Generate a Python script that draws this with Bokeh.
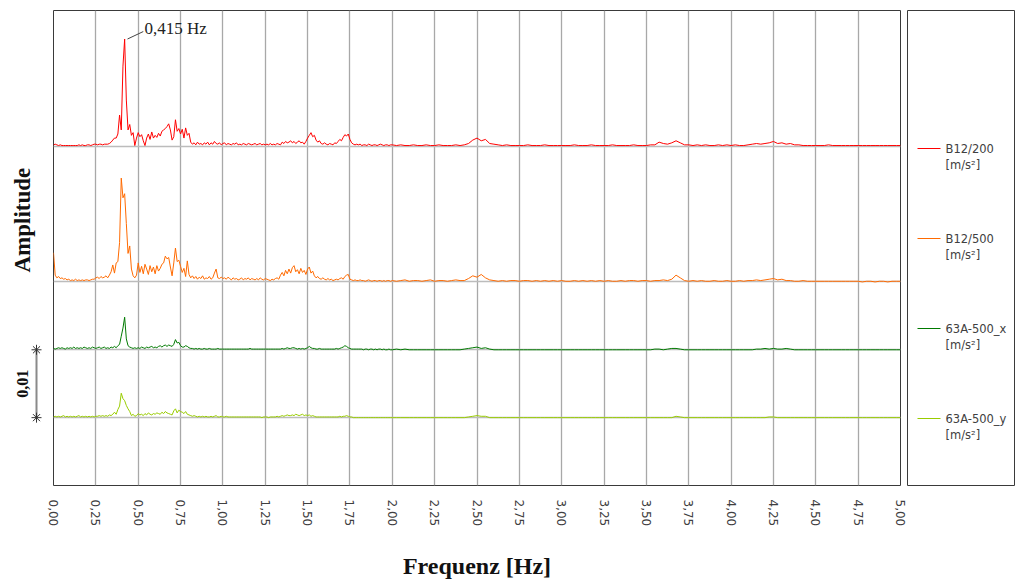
import numpy as np
from bokeh.plotting import figure
from bokeh.layouts import row
from bokeh.models import Range1d, FixedTicker, Label
from bokeh.core.properties import value
from bokeh.embed import file_html
from bokeh.resources import INLINE

# ---------------- data ----------------
# frequency bins: 0.00-1.99 Hz every 0.01 Hz, 2.000-5.000 Hz every 0.025 Hz
freq_low = np.round(np.arange(200) * 0.01, 3)
freq_high = np.round(2.0 + np.arange(121) * 0.025, 3)
freq = np.concatenate([freq_low, freq_high])

x_ticks = [0.0, 0.25, 0.5, 0.75, 1.0, 1.25, 1.5, 1.75, 2.0, 2.25, 2.5, 2.75,
           3.0, 3.25, 3.5, 3.75, 4.0, 4.25, 4.5, 4.75, 5.0]
x_tick_labels = ["0,00", "0,25", "0,50", "0,75", "1,00", "1,25", "1,50", "1,75",
                 "2,00", "2,25", "2,50", "2,75", "3,00", "3,25", "3,50", "3,75",
                 "4,00", "4,25", "4,50", "4,75", "5,00"]

series_names = ["B12/200", "B12/500", "63A-500_x", "63A-500_y"]
series_unit = "[m/s²]"
series_offsets = [0.04, 0.02, 0.01, 0.0]       # display offsets, m/s²
scale_bar = 0.01                                 # m/s²

# amplitudes in mm/s²
b12_200_a = [0.2,0.3,0.2,0.1,0.2,0.1,0.1,0.1,0.1,0.1,
             0.1,0.1,0.1,0.1,0.1,0.2,0.1,0.2,0.1,0.1,
             0.2,0.2,0.1,0.2,0.3,0.3,0.2,0.3,0.3,0.2,
             0.3,0.3,0.3,0.4,0.6,0.9,1.2,1.2,1.8,4.6,
             2.4,11.8,15.8,6.8,2.4,3.2,1.6,2.0,0.1,1.2,
             2.0,1.4,1.7,0.8,0.1,1.2,1.8,1.0,2.1,1.2,
             1.6,1.3,1.9,1.5,2.2,2.4,2.6,2.9,3.3,2.4,
             0.9,1.4,3.9,2.2,2.6,1.8,2.5,1.2,2.7,1.6,
             1.9,0.6,0.3,0.5,0.2,0.6,0.3,0.4,0.2,0.5,
             0.3,0.6,0.2,0.5,0.3,0.7,0.4,0.3,0.5,0.2]
b12_200_b = [0.4,0.5,0.2,0.4,0.3,0.2,0.4,0.3,0.5,0.2,
             0.3,0.2,0.4,0.3,0.2,0.4,0.3,0.2,0.3,0.4,
             0.2,0.3,0.4,0.2,0.3,0.2,0.3,0.2,0.4,0.2,
             0.3,0.2,0.4,0.3,0.2,0.6,0.4,0.7,0.5,0.6,
             0.8,0.5,0.7,0.4,0.6,0.8,0.5,0.6,0.3,0.7,
             1.2,1.6,2.0,1.4,1.6,0.9,0.6,0.8,0.4,0.3,
             0.5,0.3,0.2,0.4,0.3,0.2,0.5,0.4,0.7,1.0,
             0.8,1.3,1.7,1.5,1.8,1.0,0.5,0.3,0.2,0.3,
             0.2,0.3,0.1,0.2,0.2,0.1,0.3,0.2,0.1,0.2,
             0.2,0.1,0.2,0.3,0.2,0.1,0.2,0.2,0.1,0.2]
b12_200_c = [0.2,0.1,0.2,0.1,0.1,0.2,0.1,0.1,0.2,0.1,
             0.1,0.2,0.1,0.1,0.1,0.2,0.1,0.2,0.4,0.9,
             1.2,0.8,1.0,0.4,0.3,0.2,0.1,0.2,0.1,0.1,
             0.1,0.1,0.2,0.1,0.1,0.1,0.2,0.1,0.1,0.1,
             0.1,0.1,0.1,0.2,0.1,0.1,0.1,0.2,0.1,0.1,
             0.1,0.1,0.2,0.1,0.1,0.1,0.1,0.2,0.1,0.1,
             0.1,0.2,0.2,0.6,0.4,0.3,0.5,0.8,0.5,0.2,
             0.2,0.1,0.2,0.1,0.2,0.1,0.1,0.2,0.1,0.2,
             0.1,0.2,0.1,0.1,0.2,0.3,0.4,0.3,0.4,0.5,
             0.7,0.4,0.5,0.3,0.4,0.2,0.2,0.1,0.1,0.1,
             0.1,0.1,0.1,0.2,0.1,0.1,0.1,0.1,0.1,0.1,
             0.1,0.1,0.1,0.1,0.1,0.1,0.1,0.1,0.1,0.1,
             0.1]

b12_500_a = [4.3,1.0,0.6,0.8,0.5,0.6,0.4,0.5,0.3,0.4,
             0.2,0.3,0.2,0.4,0.2,0.3,0.2,0.3,0.2,0.3,
             0.3,0.2,0.3,0.4,0.4,0.6,0.7,0.5,0.8,0.6,
             0.7,0.9,0.6,1.0,1.5,2.5,1.3,2.8,3.0,5.8,
             15.3,12.4,13.0,8.6,4.2,5.3,1.9,0.9,0.6,1.0,
             2.8,1.4,2.3,1.2,2.6,1.9,1.1,2.4,1.5,2.2,
             1.2,2.4,1.6,2.0,2.6,2.8,3.8,3.4,3.6,2.2,
             0.9,2.8,5.0,3.0,3.2,2.3,1.4,2.0,0.8,3.1,
             1.1,0.6,0.9,0.5,0.8,0.4,0.7,0.5,0.9,0.4,
             0.6,0.5,0.8,0.4,0.6,1.3,1.9,0.6,0.5,0.7]
b12_500_b = [0.5,0.6,0.4,0.7,0.5,0.3,0.6,0.4,0.5,0.3,
             0.4,0.6,0.3,0.5,0.4,0.6,0.3,0.5,0.4,0.3,
             0.5,0.3,0.6,0.4,0.3,0.5,0.4,0.3,0.2,0.4,
             0.3,0.5,0.6,0.4,1.0,1.4,0.9,1.7,1.2,1.9,
             1.3,2.1,2.4,1.5,1.8,1.2,2.0,1.4,1.7,1.1,
             1.9,2.2,1.3,1.6,0.9,0.6,0.8,0.5,0.4,0.6,
             0.4,0.3,0.5,0.3,0.4,0.2,0.3,0.4,0.3,0.5,
             0.6,0.4,0.8,1.0,1.1,0.4,0.3,0.2,0.3,0.2,
             0.2,0.3,0.2,0.2,0.1,0.2,0.3,0.2,0.1,0.2,
             0.2,0.1,0.2,0.2,0.1,0.2,0.1,0.2,0.2,0.1]
b12_500_c = [0.2,0.1,0.2,0.3,0.1,0.2,0.2,0.1,0.2,0.3,
             0.1,0.2,0.2,0.1,0.2,0.3,0.2,0.2,0.5,0.9,
             0.7,1.1,0.6,0.3,0.2,0.1,0.2,0.1,0.2,0.2,
             0.1,0.2,0.2,0.1,0.2,0.1,0.2,0.1,0.2,0.1,
             0.2,0.1,0.1,0.2,0.1,0.2,0.1,0.2,0.1,0.2,
             0.1,0.2,0.1,0.1,0.2,0.1,0.2,0.2,0.1,0.2,
             0.2,0.1,0.2,0.2,0.3,0.2,0.4,1.0,0.6,0.2,
             0.1,0.2,0.1,0.2,0.1,0.1,0.2,0.1,0.1,0.2,
             0.1,0.1,0.2,0.1,0.2,0.2,0.3,0.2,0.3,0.4,
             0.5,0.3,0.4,0.2,0.2,0.1,0.1,0.2,0.1,0.1,
             0.1,0.1,0.1,0.1,0.1,0.1,0.1,0.1,0.1,0.1,
             0.1,0.0,0.1,0.1,0.0,0.1,0.1,0.0,0.1,0.1,
             0.1]

a63_x_a = [0.2,0.1,0.2,0.3,0.2,0.3,0.2,0.1,0.3,0.2,
           0.3,0.2,0.4,0.2,0.3,0.2,0.3,0.2,0.4,0.3,
           0.2,0.3,0.2,0.4,0.3,0.2,0.3,0.4,0.2,0.3,
           0.4,0.2,0.3,0.2,0.4,0.3,0.5,0.3,0.6,0.8,
           2.0,3.2,4.8,1.6,0.6,0.4,0.3,0.2,0.3,0.2,
           0.3,0.2,0.4,0.3,0.2,0.4,0.3,0.4,0.5,0.3,
           0.4,0.3,0.5,0.6,0.4,0.6,0.7,0.5,0.7,0.6,
           0.5,0.8,1.5,1.0,1.1,0.6,0.4,0.4,0.6,0.5,
           0.3,0.2,0.2,0.1,0.2,0.1,0.2,0.1,0.1,0.2,
           0.1,0.1,0.2,0.1,0.1,0.1,0.1,0.2,0.1,0.1]
a63_x_b = [0.1,0.1,0.1,0.1,0.1,0.1,0.1,0.1,0.1,0.1,
           0.1,0.1,0.1,0.1,0.1,0.1,0.2,0.1,0.1,0.1,
           0.1,0.1,0.1,0.1,0.1,0.1,0.1,0.1,0.1,0.1,
           0.1,0.1,0.1,0.1,0.1,0.2,0.1,0.2,0.3,0.2,
           0.2,0.3,0.3,0.2,0.1,0.2,0.1,0.2,0.1,0.2,
           0.3,0.5,0.3,0.2,0.2,0.1,0.1,0.2,0.1,0.1,
           0.1,0.1,0.1,0.1,0.1,0.1,0.1,0.2,0.1,0.2,
           0.3,0.4,0.6,0.5,0.3,0.2,0.1,0.1,0.1,0.1,
           0.1,0.1,0.1,0.0,0.1,0.1,0.0,0.1,0.1,0.0,
           0.1,0.0,0.1,0.1,0.0,0.1,0.0,0.0,0.1,0.0]
a63_x_c = [0.0,0.1,0.0,0.1,0.0,0.0,0.0,0.0,0.0,0.0,
           0.0,0.0,0.0,0.0,0.0,0.0,0.0,0.1,0.2,0.3,
           0.4,0.2,0.3,0.1,0.0,0.0,0.0,0.0,0.0,0.0,
           0.0,0.0,0.0,0.0,0.0,0.0,0.0,0.0,0.0,0.0,
           0.0,0.0,0.0,0.0,0.0,0.0,0.0,0.0,0.0,0.0,
           0.0,0.0,0.0,0.0,0.0,0.0,0.0,0.0,0.0,0.0,
           0.0,0.0,0.1,0.1,0.0,0.1,0.2,0.2,0.1,0.0,
           0.0,0.0,0.0,0.0,0.0,0.0,0.0,0.0,0.0,0.0,
           0.0,0.0,0.0,0.0,0.0,0.0,0.1,0.1,0.2,0.1,
           0.2,0.1,0.1,0.2,0.1,0.0,0.0,0.0,0.0,0.0,
           0.0,0.0,0.0,0.0,0.0,0.0,0.0,0.0,0.0,0.0,
           0.0,0.0,0.0,0.0,0.0,0.0,0.0,0.0,0.0,0.0,
           0.0]

a63_y_a = [0.1,0.2,0.1,0.2,0.1,0.2,0.3,0.1,0.2,0.1,
           0.2,0.1,0.2,0.1,0.2,0.3,0.1,0.2,0.1,0.2,
           0.1,0.2,0.1,0.2,0.1,0.2,0.2,0.3,0.2,0.3,
           0.2,0.3,0.2,0.4,0.3,0.5,0.8,0.5,1.2,1.7,
           3.6,2.8,2.5,1.8,1.3,0.9,0.3,0.5,0.2,0.3,
           0.6,0.4,0.5,0.3,0.6,0.4,0.7,0.5,0.4,0.6,
           0.5,0.7,0.6,0.5,0.8,0.6,0.9,0.7,0.6,0.5,
           0.4,1.0,1.3,0.7,1.1,0.9,0.8,0.6,0.9,0.5,
           0.4,0.3,0.2,0.3,0.2,0.1,0.2,0.1,0.2,0.1,
           0.2,0.1,0.1,0.2,0.1,0.2,0.3,0.1,0.1,0.2]
a63_y_b = [0.1,0.1,0.2,0.1,0.1,0.1,0.1,0.1,0.1,0.1,
           0.1,0.1,0.1,0.1,0.1,0.1,0.1,0.1,0.1,0.1,
           0.1,0.1,0.1,0.0,0.1,0.1,0.1,0.0,0.1,0.1,
           0.1,0.1,0.2,0.1,0.2,0.3,0.2,0.3,0.4,0.3,
           0.3,0.4,0.3,0.5,0.4,0.3,0.4,0.5,0.3,0.4,
           0.3,0.4,0.2,0.3,0.2,0.1,0.1,0.1,0.1,0.1,
           0.1,0.1,0.1,0.1,0.1,0.1,0.1,0.1,0.1,0.2,
           0.1,0.2,0.2,0.3,0.2,0.1,0.1,0.0,0.0,0.0,
           0.0,0.0,0.0,0.0,0.0,0.0,0.0,0.0,0.0,0.0,
           0.0,0.0,0.0,0.0,0.0,0.0,0.0,0.0,0.0,0.0]
a63_y_c = [0.0,0.0,0.0,0.0,0.0,0.0,0.0,0.0,0.0,0.0,
           0.0,0.0,0.0,0.0,0.0,0.0,0.0,0.0,0.1,0.2,
           0.3,0.2,0.2,0.0,0.0,0.0,0.0,0.0,0.0,0.0,
           0.0,0.0,0.0,0.0,0.0,0.0,0.0,0.0,0.0,0.0,
           0.0,0.0,0.0,0.0,0.0,0.0,0.0,0.0,0.0,0.0,
           0.0,0.0,0.0,0.0,0.0,0.0,0.0,0.0,0.0,0.0,
           0.0,0.0,0.0,0.0,0.0,0.0,0.0,0.2,0.1,0.0,
           0.0,0.0,0.0,0.0,0.0,0.0,0.0,0.0,0.0,0.0,
           0.0,0.0,0.0,0.0,0.0,0.0,0.0,0.0,0.0,0.1,
           0.1,0.0,0.0,0.0,0.0,0.0,0.0,0.0,0.0,0.0,
           0.0,0.0,0.0,0.0,0.0,0.0,0.0,0.0,0.0,0.0,
           0.0,0.0,0.0,0.0,0.0,0.0,0.0,0.0,0.0,0.0,
           0.0]

peak_label = "0,415 Hz"

amplitudes = [
    np.array(b12_200_a + b12_200_b + b12_200_c) / 1000.0,
    np.array(b12_500_a + b12_500_b + b12_500_c) / 1000.0,
    np.array(a63_x_a + a63_x_b + a63_x_c) / 1000.0,
    np.array(a63_y_a + a63_y_b + a63_y_c) / 1000.0,
]
colors = ["#ff0000", "#ff6a00", "#007a00", "#99cc00"]

SERIF = "Liberation Serif"
SANS = "DejaVu Sans"
TOP, BOTTOM = 10, 98
H = TOP + 475 + BOTTOM

# ---------------- main plot ----------------
p = figure(width=862, height=H, output_backend="svg", toolbar_location=None,
           x_range=Range1d(0, 5), y_range=Range1d(-0.01, 0.06),
           y_axis_location=None, min_border_left=8, min_border_right=7,
           min_border_top=TOP, min_border_bottom=BOTTOM)
p.outline_line_color = "#3a3a3a"
p.outline_line_width = 1
p.background_fill_color = "white"
p.border_fill_color = "white"

p.xaxis.ticker = FixedTicker(ticks=x_ticks)
p.xaxis.major_label_overrides = {t: l for t, l in zip(x_ticks, x_tick_labels)}
p.xaxis.major_label_orientation = "vertical"
p.xaxis.major_label_text_font = SANS
p.xaxis.major_label_text_font_size = "12px"
p.xaxis.major_label_text_color = "#404040"
p.xaxis.major_label_standoff = 14
p.xaxis.major_tick_out = 0
p.xaxis.major_tick_in = 0
p.xaxis.minor_tick_out = 0
p.xaxis.minor_tick_in = 0
p.xaxis.axis_line_color = None
p.xaxis.axis_label = "Frequenz [Hz]"
p.xaxis.axis_label_text_font = SERIF
p.xaxis.axis_label_text_font_style = "bold"
p.xaxis.axis_label_text_font_size = "24px"
p.xaxis.axis_label_text_color = "#111111"
p.xaxis.axis_label_standoff = 24

p.xgrid.ticker = FixedTicker(ticks=x_ticks)
p.xgrid.grid_line_color = "#a8a8a8"
p.xgrid.grid_line_width = 1.3
p.ygrid.ticker = FixedTicker(ticks=series_offsets)
p.ygrid.grid_line_color = "#bcbcbc"
p.ygrid.grid_line_width = 1.5

for amp, off, col in zip(amplitudes, series_offsets, colors):
    p.line(freq, amp + off, line_color=col, line_width=1)

# peak annotation on the first channel
ipk = int(np.argmax(amplitudes[0]))
pk_f, pk_y = freq[ipk], amplitudes[0][ipk] + series_offsets[0]
p.segment(x0=[pk_f + 0.017], y0=[pk_y], x1=[0.53], y1=[pk_y + 0.0011],
          line_color="#444444", line_width=1)
p.add_layout(Label(x=0.537, y=pk_y + 0.0016, text=peak_label,
                   text_font=SERIF, text_font_size="17px",
                   text_color="#222222", text_baseline="middle"))

# ---------------- left panel (y title & scale bar) ----------------
lp = figure(width=45, height=H, output_backend="svg", toolbar_location=None,
            x_range=Range1d(0, 45), y_range=p.y_range,
            x_axis_location=None, y_axis_location=None,
            min_border_left=0, min_border_right=0,
            min_border_top=TOP, min_border_bottom=BOTTOM)
lp.outline_line_color = None
lp.grid.visible = False
lp.segment(x0=[36], y0=[0.0], x1=[36], y1=[scale_bar],
           line_color="#8a8a8a", line_width=2)
lp.scatter(x=[36, 36], y=[0.0, scale_bar], marker="asterisk", size=10,
           line_color="#333333", line_width=1)
lp.text(x=[22], y=[scale_bar / 2], text=["0,01"], angle=np.pi / 2,
        text_align="center", text_baseline="middle",
        text_font=value(SERIF), text_font_style="bold",
        text_font_size="16px", text_color="#111111")
lp.text(x=[22], y=[0.0291], text=["Amplitude"], angle=np.pi / 2,
        text_align="center", text_baseline="middle",
        text_font=value(SERIF), text_font_style="bold",
        text_font_size="23px", text_color="#111111")

# ---------------- legend panel ----------------
leg = figure(width=108, height=H, output_backend="svg", toolbar_location=None,
             x_range=Range1d(907, 1015), y_range=Range1d(485, 10),
             x_axis_location=None, y_axis_location=None,
             min_border_left=0, min_border_right=0,
             min_border_top=TOP, min_border_bottom=BOTTOM)
leg.outline_line_color = "#3a3a3a"
leg.grid.visible = False
leg_y = [148, 238, 328, 418]
for yy, name, col in zip(leg_y, series_names, colors):
    leg.segment(x0=[917], y0=[yy], x1=[940], y1=[yy], line_color=col, line_width=1.2)
    leg.text(x=[945, 945], y=[yy, yy + 16], text=[name, series_unit],
             text_baseline="middle", text_align="left",
             text_font=value(SANS), text_font_size="11.5px", text_color="#404040")

layout = row(lp, p, leg)
open("out.html", "w").write(file_html(layout, INLINE))
